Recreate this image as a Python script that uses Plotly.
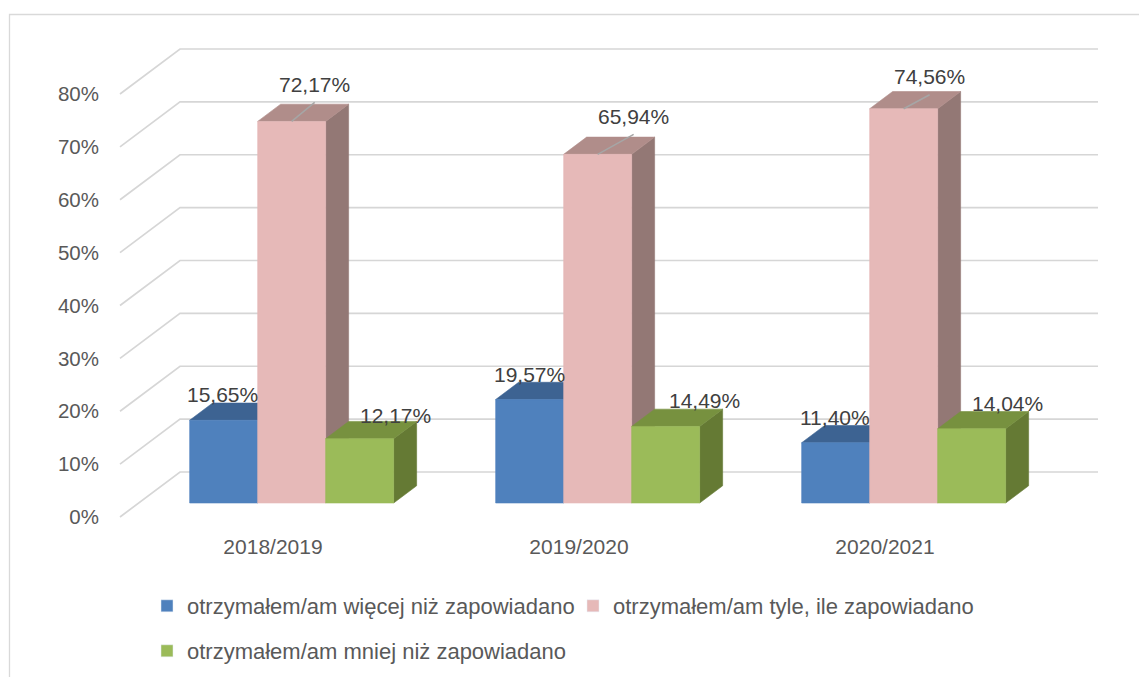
import plotly.graph_objects as go

# ---------------- data ----------------
categories = ["2018/2019", "2019/2020", "2020/2021"]
series_names = [
    "otrzymałem/am więcej niż zapowiadano",
    "otrzymałem/am tyle, ile zapowiadano",
    "otrzymałem/am mniej niż zapowiadano",
]
values_more = [15.65, 19.57, 11.40]
values_same = [72.17, 65.94, 74.56]
values_less = [12.17, 14.49, 14.04]
y_tick_values = [0, 10, 20, 30, 40, 50, 60, 70, 80]
y_tick_labels = ["0%", "10%", "20%", "30%", "40%", "50%", "60%", "70%", "80%"]

series_values = [values_more, values_same, values_less]

# ---------------- styling / geometry ----------------
W, H = 1147, 677
PAGE_OFF = 8.0                        # default page margin around the figure


def fx(px):
    """screen pixel -> figure pixel (x)"""
    return px - PAGE_OFF


def fy(py):
    """screen pixel -> figure pixel (y)"""
    return py - PAGE_OFF


X0_PX, Y0_PX = fx(120.0), fy(517.0)   # front plane origin in figure pixels
PX_PER_CAT = 306.0
PX_PER_PCT = 5.2875
DEPTH_DX_PX, DEPTH_DY_PX = 60.0, 45.0
PLOT_L, PLOT_R, PLOT_T, PLOT_B = fx(104), fx(1112), fy(30), fy(522)

DX = DEPTH_DX_PX / PX_PER_CAT
DY = DEPTH_DY_PX / PX_PER_PCT
D0, D1 = 0.311, 0.694                # bar depth span (fraction of floor depth)
GROUP_FRAC = 2.0 / 3.0
BW = GROUP_FRAC / len(series_values)

front_colors = ["#4F81BD", "#E6B9B8", "#9BBB59"]
top_colors = ["#3D6392", "#B08D8A", "#77913F"]
side_colors = ["#34557F", "#937875", "#657A34"]
grid_color = "#D6D6D6"
axis_text = "#595959"
label_text = "#404040"
FONT = "Liberation Sans, Arial, sans-serif"

# data-label offsets in pixels (relative to the front-top centre of each bar)
label_dx = [[-1, 0, -1], [23, 36, 26], [36, 39, 36]]
label_dy = [[-26, -25, -25], [-37, -38, -32], [-23, -26, -25]]
LEADER_DROP = 18

xrange_ = [(PLOT_L - X0_PX) / PX_PER_CAT, (PLOT_R - X0_PX) / PX_PER_CAT]
yrange_ = [(Y0_PX - PLOT_B) / PX_PER_PCT, (Y0_PX - PLOT_T) / PX_PER_PCT]


def proj(x, v, d):
    return x + d * DX, v + d * DY


def poly(points):
    xs = [p[0] for p in points] + [points[0][0]]
    ys = [p[1] for p in points] + [points[0][1]]
    return xs, ys


fig = go.Figure()

# ---- walls: gridlines on the back wall + diagonals on the side wall ----
gx, gy = [], []
n_cat = len(categories)
for v in y_tick_values:
    a = proj(0, v, 0)
    b = proj(0, v, 1)
    c = proj(n_cat, v, 1)
    gx += [a[0], b[0], c[0], None]
    gy += [a[1], b[1], c[1], None]
fig.add_trace(go.Scatter(x=gx, y=gy, mode="lines",
                         line=dict(color=grid_color, width=1.7),
                         hoverinfo="skip", showlegend=False))

# ---- 3D bars ----
annotations = []
leader_x, leader_y = [], []
for i in range(n_cat):
    for j, vals in enumerate(series_values):
        v = vals[i]
        xl = i + (1 - GROUP_FRAC) / 2 + j * BW
        xr = xl + BW
        side = [proj(xr, 0, D0), proj(xr, 0, D1), proj(xr, v, D1), proj(xr, v, D0)]
        top = [proj(xl, v, D0), proj(xr, v, D0), proj(xr, v, D1), proj(xl, v, D1)]
        front = [proj(xl, 0, D0), proj(xr, 0, D0), proj(xr, v, D0), proj(xl, v, D0)]
        for pts, col in ((side, side_colors[j]), (top, top_colors[j]), (front, front_colors[j])):
            xs, ys = poly(pts)
            fig.add_trace(go.Scatter(x=xs, y=ys, mode="lines", fill="toself",
                                     fillcolor=col, line=dict(color=col, width=0.6),
                                     hoverinfo="skip", showlegend=False))
        cx, cy = proj((xl + xr) / 2, v, D0)
        dxp, dyp = label_dx[j][i], label_dy[j][i]
        annotations.append(dict(
            x=cx, y=cy, xref="x", yref="y", showarrow=False,
            text=f"{v:.2f}".replace(".", ",") + "%",
            xshift=dxp, yshift=-dyp, xanchor="center", yanchor="middle",
            font=dict(family=FONT, size=21, color=label_text)))
        if j == 1:
            leader_x += [cx, cx + dxp / PX_PER_CAT, None]
            leader_y += [cy, cy - (dyp + LEADER_DROP) / PX_PER_PCT, None]

fig.add_trace(go.Scatter(x=leader_x, y=leader_y, mode="lines",
                         line=dict(color="#A6A6A6", width=1.5),
                         hoverinfo="skip", showlegend=False))

# ---- legend entries ----
legend_ids = ["legend", "legend2", "legend3"]
for j, name in enumerate(series_names):
    fig.add_trace(go.Bar(x=[None], y=[None], name=name,
                         marker=dict(color=front_colors[j]),
                         legend=legend_ids[j], showlegend=True))


def paper_x(px):
    return (px - PLOT_L) / (PLOT_R - PLOT_L)


def paper_y(py):
    return (PLOT_B - py) / (PLOT_B - PLOT_T)


# outer chart border
shapes = [dict(type="rect", xref="paper", yref="paper",
               x0=paper_x(fx(9.5)), x1=paper_x(1170), y0=paper_y(700), y1=paper_y(fy(14.5)),
               line=dict(color="#D9D9D9", width=1.3), fillcolor="rgba(0,0,0,0)",
               layer="below")]

legend_common = dict(orientation="h", xref="container", yref="container",
                     xanchor="left", yanchor="middle", bgcolor="rgba(0,0,0,0)",
                     borderwidth=0, font=dict(family=FONT, size=22, color=axis_text))

fig.update_layout(
    width=W, height=H, autosize=False,
    margin=dict(l=PLOT_L, r=W - PLOT_R, t=PLOT_T, b=H - PLOT_B, pad=0),
    paper_bgcolor="white", plot_bgcolor="white",
    font=dict(family=FONT, color=axis_text),
    xaxis=dict(range=xrange_, tickmode="array",
               tickvals=[i + 0.5 for i in range(n_cat)], ticktext=categories,
               showgrid=False, zeroline=False, showline=False, ticks="",
               tickfont=dict(family=FONT, size=21, color=axis_text),
               ticklabelstandoff=10, fixedrange=True),
    yaxis=dict(range=yrange_, tickmode="array",
               tickvals=y_tick_values, ticktext=y_tick_labels,
               showgrid=False, zeroline=False, showline=False, ticks="",
               tickfont=dict(family=FONT, size=20.5, color=axis_text),
               ticklabelstandoff=4, fixedrange=True),
    legend=dict(legend_common, x=fx(187 - 40) / W, y=1 - fy(606) / H),
    legend2=dict(legend_common, x=fx(613 - 40) / W, y=1 - fy(606) / H),
    legend3=dict(legend_common, x=fx(187 - 40) / W, y=1 - fy(651) / H),
    annotations=annotations,
    shapes=shapes,
    showlegend=True,
    hovermode=False,
)

fig.write_html("out.html")
